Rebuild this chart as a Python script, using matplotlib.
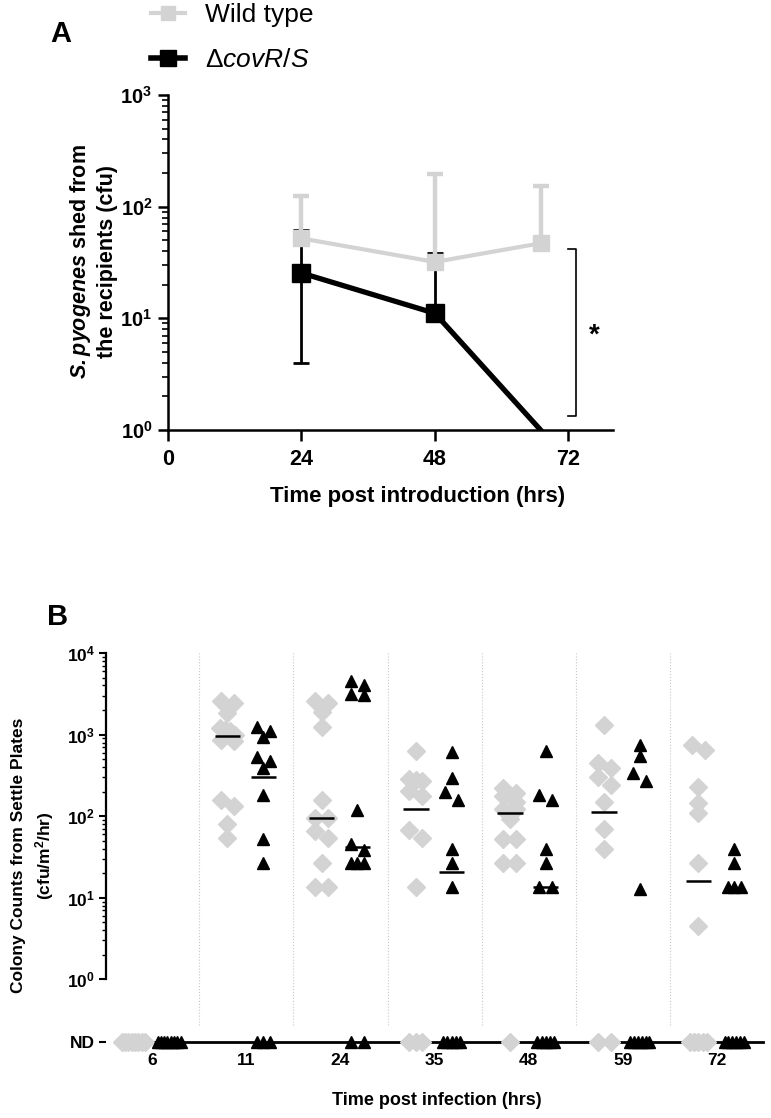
import numpy as np
import matplotlib
matplotlib.use("Agg")
import matplotlib.pyplot as plt
from matplotlib.lines import Line2D
from matplotlib.ticker import FixedLocator, NullFormatter

plt.rcParams.update({
    "font.family": ["Liberation Sans", "DejaVu Sans"],
    "mathtext.fontset": "custom",
    "mathtext.rm": "Liberation Sans",
    "mathtext.it": "Liberation Sans:italic",
    "mathtext.bf": "Liberation Sans:bold",
    "mathtext.bfit": "Liberation Sans:italic:bold",
})

GRAY = "#d3d3d3"

# ---- panel A: shed bacteria (mean + error) ----
hours_a = [24, 48, 67]
wt_mean = [52, 32, 47]
wt_upper = [125, 196, 152]
mut_mean = [25.5, 11.1, 1.0]       # 1.0 = dropped to axis floor
mut_lower = [4.0, 11.1, 1.0]
mut_upper = [62, 38.5, 1.0]

# ---- panel B: settle plate counts, 0 = not detected (ND) ----
times_b = ["6", "11", "24", "35", "48", "59", "72"]
wt_counts = [
    [0, 0, 0, 0, 0, 0, 0, 0],
    [2560, 2440, 1840, 1210, 1150, 1100, 1000, 870, 830, 160, 135, 81, 54],
    [2560, 2440, 1900, 1230, 160, 95, 95, 65, 54, 27, 13.5, 13.5],
    [625, 287, 281, 273, 202, 176, 67, 54, 13.5, 0, 0, 0],
    [222, 190, 176, 148, 123, 123, 93, 53, 53, 27, 27, 0],
    [1300, 449, 390, 303, 244, 150, 70, 40, 0, 0],
    [754, 643, 228, 146, 110, 27, 4.5, 0, 0, 0, 0, 0],
]
mut_counts = [
    [0, 0, 0, 0, 0, 0, 0, 0],
    [1240, 1100, 937, 533, 470, 390, 184, 53, 27, 0, 0, 0],
    [4500, 4100, 3180, 3090, 118, 46, 39, 27, 27, 27, 0, 0],
    [608, 295, 197, 157, 40, 27, 13.5, 0, 0, 0, 0, 0],
    [636, 184, 157, 40, 27, 13.5, 13.5, 0, 0, 0, 0, 0],
    [740, 553, 339, 273, 13, 0, 0, 0, 0, 0, 0],
    [40, 27, 13.5, 13.5, 13.5, 0, 0, 0, 0, 0, 0],
]
wt_median = [0, 970, 94, 121, 108, 112, 15.9]
mut_median = [0, 300, 42, 20.5, 13.5, 0, 0]

ND_POS = 0.171


def swarm_offsets(vals, px_per_unit, step_px=13.0, row_dec=0.10):
    """Symmetric row-wise spread of points with nearly equal values."""
    vals = np.asarray(vals, float)
    logv = np.where(vals > 0, np.log10(np.where(vals > 0, vals, 1)), -99)
    order = np.argsort(-logv, kind="stable")
    offs = np.zeros(len(vals))
    rows, cur = [], []
    for i in order:
        if cur and logv[cur[0]] - logv[i] > row_dec:
            rows.append(cur)
            cur = []
        cur.append(i)
    if cur:
        rows.append(cur)
    for r in rows:
        k = len(r)
        if k == 1:
            continue
        width = max(step_px, min(step_px / 2 * (k - 1), step_px + 2 * (k - 3)))
        for j, i in enumerate(r):
            offs[i] = (-width / 2 + width * j / (k - 1)) / px_per_unit
    return offs


fig = plt.figure(figsize=(7.71, 11.18), dpi=100)

# ================= Panel A =================
axA = fig.add_axes([0.2175, 0.6154, 0.5775, 0.2996])
axA.set_yscale("log")
axA.set_xlim(0, 80)
axA.set_ylim(1, 1000)

x = np.array(hours_a, float)
wm, wu = np.array(wt_mean), np.array(wt_upper)
mm, ml, mu = np.array(mut_mean), np.array(mut_lower), np.array(mut_upper)

has_err = (mu > mm) | (ml < mm)
axA.errorbar(x[has_err], mm[has_err], yerr=[mm[has_err] - ml[has_err], mu[has_err] - mm[has_err]],
             fmt="none", ecolor="black", elinewidth=2, capsize=6, capthick=2, zorder=2)
axA.errorbar(x, wm, yerr=[np.zeros_like(wm), wu - wm], fmt="none", ecolor=GRAY,
             elinewidth=3.2, capsize=6, capthick=3.2, zorder=3)
axA.plot(x, wm, color=GRAY, lw=3, marker="s", ms=11, zorder=3)
shown = [i for i, v in enumerate(mm) if v > 1]
axA.plot(x, mm, color="black", lw=3.8, marker="s", ms=13, markevery=shown, zorder=4)

# significance bracket
axA.plot([71.9, 73.3, 73.3, 71.9], [41.8, 41.8, 1.33, 1.33], color="black", lw=1.2)
axA.text(76.7, 7.0, "*", fontsize=20, fontweight="bold", ha="center", va="center")

for s in ["top", "right"]:
    axA.spines[s].set_visible(False)
for s in ["left", "bottom"]:
    axA.spines[s].set_linewidth(1.8)
axA.set_xticks([0, 24, 48, 72])
axA.set_xticklabels(["0", "24", "48", "72"], fontsize=15.5, fontweight="bold")
axA.set_yticks([1, 10, 100, 1000])
axA.set_yticklabels([r"$\mathbf{10^{%d}}$" % e for e in range(4)], fontsize=14.5)
axA.tick_params(which="major", length=7, width=1.8, pad=4)
axA.tick_params(which="minor", length=4, width=1.2)
axA.tick_params(axis="x", length=8, pad=6)

fig.text(0.121, 0.7657, "$\\mathbfit{S{.}pyogenes}$ shed from\nthe recipients (cfu)",
         rotation=90, ha="center", va="center", fontsize=15.5, fontweight="bold",
         multialignment="center", linespacing=1.25)
fig.text(0.541, 0.5555, "Time post introduction (hrs)", ha="center", va="center",
         fontsize=16, fontweight="bold")
fig.text(50 / 771, 1 - 42 / 1118, "A", fontsize=21, fontweight="bold", va="baseline")

handles = [
    Line2D([], [], color=GRAY, lw=3, marker="s", ms=10),
    Line2D([], [], color="black", lw=4, marker="s", ms=12),
]
fig.legend(handles, ["Wild type", "\u0394$\\mathit{covR/S}$"], loc="upper left",
           bbox_to_anchor=(0.196, 0.997), frameon=False, fontsize=19,
           handlelength=1.3, handletextpad=0.75, labelspacing=0.8,
           borderpad=0, borderaxespad=0)

# ================= Panel B =================
axB = fig.add_axes([0.1375, 0.068, 0.8525, 0.3479])
axB.set_yscale("log")
axB.set_xlim(-0.49, 6.49)
axB.set_ylim(ND_POS, 1e4)

bb = axB.get_window_extent()
px_x = bb.width / (6.49 + 0.49)

for i in range(len(times_b) - 1):
    axB.vlines(i + 0.5, 0.28, 1e4, colors="#c8c8c8", linestyles=":", lw=0.8, zorder=1)

for gi in range(len(times_b)):
    for vals, med, dx, mk, col, ms in [
        (wt_counts[gi], wt_median[gi], -0.2, "D", GRAY, 9),
        (mut_counts[gi], mut_median[gi], 0.18, "^", "black", 8.5),
    ]:
        vals = np.asarray(vals, float)
        offs = swarm_offsets(vals, px_x)
        yy = np.where(vals > 0, vals, ND_POS)
        axB.plot(gi + dx + offs, yy, linestyle="none", marker=mk, ms=ms,
                 color=col, mec=col, zorder=3, clip_on=False)
        if med > 0:
            axB.hlines(med, gi + dx - 0.135, gi + dx + 0.135, colors="black", lw=1.8, zorder=4)

for s in ["top", "right"]:
    axB.spines[s].set_visible(False)
axB.spines["left"].set_bounds(1, 1e4)
axB.spines["left"].set_linewidth(1.6)
axB.spines["bottom"].set_bounds(-0.36, 6.49)
axB.spines["bottom"].set_linewidth(2)

axB.yaxis.set_major_locator(FixedLocator([ND_POS, 1, 10, 100, 1000, 10000]))
axB.set_yticklabels(["ND"] + [r"$\mathbf{10^{%d}}$" % e for e in range(5)], fontsize=12.5,
                    fontweight="bold")
axB.yaxis.set_minor_locator(FixedLocator([m * 10 ** e for e in range(4) for m in range(2, 10)]))
axB.yaxis.set_minor_formatter(NullFormatter())
axB.tick_params(axis="y", which="major", length=5, width=1.5, pad=3)
axB.tick_params(axis="y", which="minor", length=3, width=1)
axB.set_xticks(range(len(times_b)))
axB.set_xticklabels(times_b, fontsize=12.5, fontweight="bold")
axB.tick_params(axis="x", length=0, pad=8)

fig.text(0.043, 0.235, "Colony Counts from Settle Plates\n(cfu/m$\\mathbf{^2}$/hr)",
         rotation=90, ha="center", va="center", fontsize=12.5, fontweight="bold",
         multialignment="center", linespacing=1.4)
fig.text(0.567, 0.016, "Time post infection (hrs)", ha="center", va="center",
         fontsize=13, fontweight="bold")
fig.text(47 / 771, 1 - 625 / 1118, "B", fontsize=21, fontweight="bold", va="baseline")

fig.savefig("out.png", dpi=100)
